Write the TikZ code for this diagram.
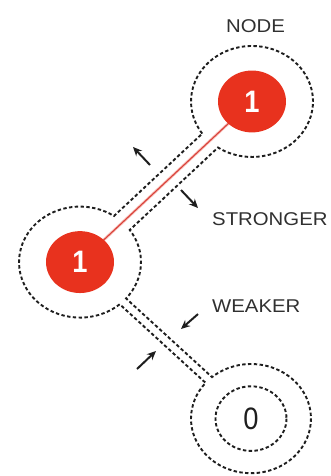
\documentclass[tikz,border=0pt]{standalone}
\usepackage{fontspec}
\newfontfamily\lblfont[FakeStretch=1.1]{Liberation Sans}
\newfontfamily\numfont[FakeStretch=0.88]{Liberation Sans}
\usetikzlibrary{arrows.meta}
\definecolor{nodered}{HTML}{E8321E}
\definecolor{linered}{HTML}{D9423A}
\definecolor{inkgray}{HTML}{1E1E1E}
\definecolor{txtgray}{HTML}{303030}
\begin{document}
\begin{tikzpicture}[x=1pt,y=1pt,yscale=-0.91,
  ring/.style={draw=inkgray,line width=1.9pt,dash pattern=on 3.4pt off 2.4pt},
  redglow/.style={draw=nodered!30,line width=2.8pt},
  redline/.style={draw=linered,line width=1.1pt},
  reddot/.style={fill=nodered},
  numlbl/.style={inner sep=0pt,font=\numfont\fontsize{31}{32}\selectfont},
  lbl/.style={inner sep=0pt,text=txtgray,font=\lblfont\fontsize{18.5}{20}\selectfont},
  dirarrow/.style={draw=inkgray,line width=2pt,-{Stealth[length=9pt,width=8pt]}}]
\path[use as bounding box] (0,0) rectangle (331,523.08);
% node centres
\coordinate (A) at (252,111.5);
\coordinate (B) at (80,288);
\coordinate (C) at (251,460);
% junction points of the tubes with the outer rings
\coordinate (A1) at (202.25,146.79);
\coordinate (A2) at (218.01,162.15);
\coordinate (B1) at (113.99,237.35);
\coordinate (B2) at (129.75,252.71);
\coordinate (B3) at (126.08,327.97);
\coordinate (B4) at (119.70,334.32);
\coordinate (C1) at (212.01,414.40);
\coordinate (C2) at (205.61,420.76);
% strong link (red)
\draw[redglow] (A) -- (B);
\draw[redline] (A) -- (B);
% red nodes
\fill[reddot] (A) circle[radius=34];
\fill[reddot] (B) circle[radius=34];
\node[numlbl,text=white,font=\numfont\bfseries\fontsize{31}{32}\selectfont] (nA) at (A) {1};
\node[numlbl,text=white,font=\numfont\bfseries\fontsize{31}{32}\selectfont] (nB) at (B) {1};
% outer dashed outline (rings joined by tubes)
\draw[ring] (A1) arc[start angle=144.65,end angle=483.87,radius=61]
  -- (B2) arc[start angle=-35.35,end angle=40.94,radius=61]
  -- (C1) arc[start angle=229.47,end angle=580.87,radius=60]
  -- (B4) arc[start angle=49.4,end angle=303.87,radius=61]
  -- cycle;
% inner ring of the 0 node
\draw[ring] (C) circle[radius=35.5];
\node[numlbl,text=inkgray] (nC) at (C) {0};
% arrows
\coordinate (s1a) at (150,181.3);
\coordinate (s1b) at (133,161.5);
\coordinate (s2a) at (181,208.8);
\coordinate (s2b) at (198,228.6);
\coordinate (w1a) at (198,345.1);
\coordinate (w1b) at (181,361.5);
\coordinate (w2a) at (137,405.5);
\coordinate (w2b) at (156,385.7);
\draw[dirarrow] (s1a) -- (s1b);
\draw[dirarrow] (s2a) -- (s2b);
\draw[dirarrow] (w1a) -- (w1b);
\draw[dirarrow] (w2a) -- (w2b);
% labels
\node[lbl,anchor=base west] (lnode) at (226,35.2) {NODE};
\node[lbl,anchor=base west] (lstr) at (212,247.3) {STRONGER};
\node[lbl,anchor=base west] (lweak) at (212,342.9) {WEAKER};
\end{tikzpicture}
\end{document}
